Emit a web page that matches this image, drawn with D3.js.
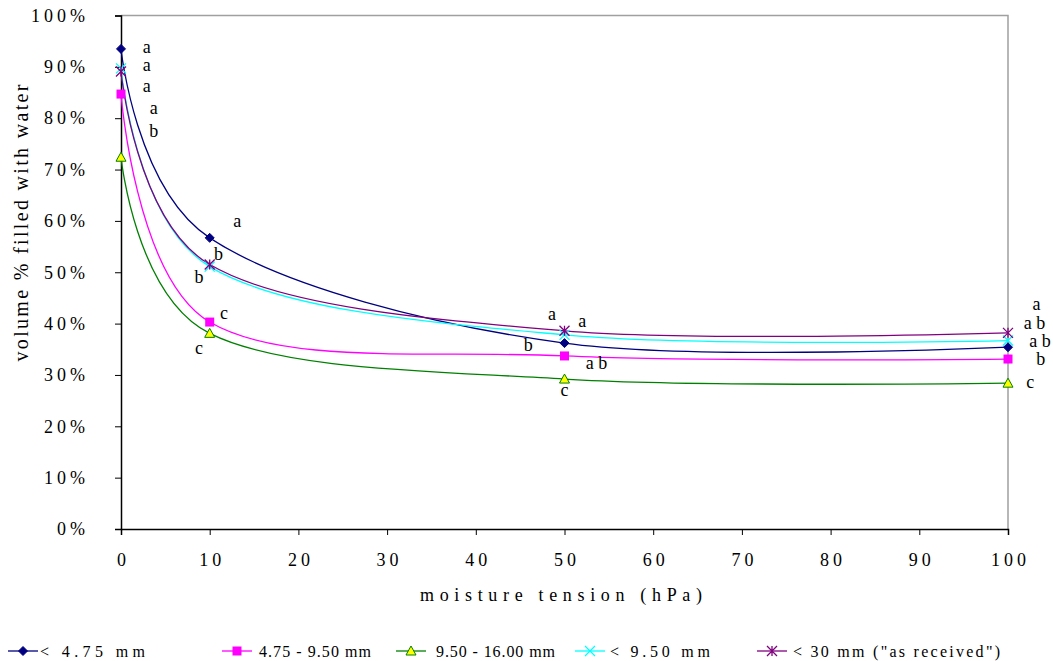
<!DOCTYPE html>
<html>
<head>
<title>Moisture tension</title>
<script src="https://cdnjs.cloudflare.com/ajax/libs/d3/7.8.5/d3.min.js"></script>
<style>
  body { margin: 0; background: #fff; }
</style>
</head>
<body>
<div id="chart"></div>
<script>
// data
const tensions = [0, 10, 50, 100];
const seriesNames = ["< 4.75 mm", "4.75 - 9.50 mm", "9.50 - 16.00 mm", "< 9.50 mm", "< 30 mm (\"as received\")"];
const fine = [93.5, 56.7, 36.2, 35.4];
const medium = [84.7, 40.3, 33.7, 33.1];
const coarse = [72.4, 38.1, 29.2, 28.4];
const under950 = [89.7, 51.1, 37.8, 36.7];
const asReceived = [89.1, 51.5, 38.6, 38.2];
const yTicks = [0, 10, 20, 30, 40, 50, 60, 70, 80, 90, 100];
const xTicks = [0, 10, 20, 30, 40, 50, 60, 70, 80, 90, 100];

// significance letters [x, y, text]
const letters = [
  [2.9, 93.9, "a"], [2.9, 90.4, "a"], [2.9, 86.4, "a"], [3.7, 82.1, "a"], [3.7, 77.6, "b"],
  [13.1, 60.1, "a"], [11.0, 53.6, "b"], [8.8, 49.1, "b"], [11.6, 42.1, "c"], [8.8, 35.3, "c"],
  [48.6, 42.0, "a"], [52.0, 40.5, "a"], [45.9, 35.8, "b"], [53.6, 32.3, "a b"], [50.0, 27.2, "c"],
  [103.2, 43.8, "a"], [103.0, 40.1, "a b"], [103.6, 36.7, "a b"], [103.7, 33.1, "b"], [102.5, 28.6, "c"]
];

const series = [
  { name: seriesNames[0], values: fine, color: "#000080", marker: "diamond" },
  { name: seriesNames[1], values: medium, color: "#ff00ff", marker: "square" },
  { name: seriesNames[2], values: coarse, color: "#008000", marker: "triangle" },
  { name: seriesNames[3], values: under950, color: "#00ffff", marker: "cross" },
  { name: seriesNames[4], values: asReceived, color: "#800080", marker: "star" }
];

const FONT = "Liberation Serif";
const width = 1053, height = 661;
const svg = d3.select("#chart").append("svg")
  .attr("width", width).attr("height", height)
  .attr("font-family", FONT);

const x = d3.scaleLinear().domain([0, 100]).range([121, 1008]);
const y = d3.scaleLinear().domain([0, 100]).range([529, 15.5]);

// frame (top and right in grey)
svg.append("path")
  .attr("d", `M${x(0)},${y(100)}H${x(100)}V${y(0)}`)
  .attr("fill", "none").attr("stroke", "#a0a0a0").attr("stroke-width", 1.5);

const xAxis = svg.append("g")
  .attr("transform", `translate(0,${y(0)})`)
  .call(d3.axisBottom(x).tickValues(xTicks).tickSize(6).tickPadding(18).tickFormat(d3.format("d")));
xAxis.selectAll("text").attr("dx", "2px");

const yAxis = svg.append("g")
  .attr("transform", `translate(${x(0)},0)`)
  .call(d3.axisLeft(y).tickValues(yTicks).tickSize(6).tickPadding(30).tickFormat(d => d + "%"));
yAxis.selectAll("text").attr("dx", "4px");

xAxis.attr("font-family", FONT);
yAxis.attr("font-family", FONT);
svg.selectAll(".tick text")
  .attr("font-family", FONT)
  .attr("font-size", 18)
  .attr("letter-spacing", "4px");
svg.selectAll(".domain").attr("stroke", "#000").attr("stroke-width", 1.5);
svg.selectAll(".tick line").attr("stroke", "#000");

// axis titles
svg.append("text")
  .attr("x", 561).attr("y", 601)
  .attr("text-anchor", "middle")
  .attr("font-family", FONT)
  .attr("font-size", 18)
  .attr("textLength", 282)
  .text("moisture tension (hPa)");

svg.append("text")
  .attr("transform", `translate(28,223) rotate(-90)`)
  .attr("text-anchor", "middle")
  .attr("font-family", FONT)
  .attr("font-size", 20)
  .attr("textLength", 277)
  .text("volume % filled with water");

const line = d3.line()
  .x((d, i) => x(tensions[i]))
  .y(d => y(d))
  .curve(d3.curveCardinal.tension(0));

function drawMarker(g, type, color, cx, cy) {
  if (type === "diamond") {
    g.append("path").attr("d", `M${cx},${cy - 4.5}L${cx + 4.5},${cy}L${cx},${cy + 4.5}L${cx - 4.5},${cy}Z`)
      .attr("fill", color).attr("stroke", color);
  } else if (type === "square") {
    g.append("rect").attr("x", cx - 4.5).attr("y", cy - 4.5).attr("width", 9).attr("height", 9)
      .attr("fill", color);
  } else if (type === "triangle") {
    g.append("path").attr("d", `M${cx},${cy - 5}L${cx + 5},${cy + 4}L${cx - 5},${cy + 4}Z`)
      .attr("fill", "#ffff00").attr("stroke", color).attr("stroke-width", 1);
  } else if (type === "cross") {
    g.append("path").attr("d", `M${cx - 5},${cy - 5}L${cx + 5},${cy + 5}M${cx - 5},${cy + 5}L${cx + 5},${cy - 5}`)
      .attr("stroke", color).attr("stroke-width", 1.3);
  } else {
    g.append("path").attr("d", `M${cx - 5},${cy - 5}L${cx + 5},${cy + 5}M${cx - 5},${cy + 5}L${cx + 5},${cy - 5}M${cx},${cy - 5}V${cy + 5}`)
      .attr("stroke", color).attr("stroke-width", 1.3);
  }
}

series.forEach(s => {
  svg.append("path")
    .datum(s.values)
    .attr("d", line)
    .attr("fill", "none")
    .attr("stroke", s.color)
    .attr("stroke-width", 1.3);
});
series.forEach(s => {
  const g = svg.append("g");
  s.values.forEach((v, i) => drawMarker(g, s.marker, s.color, x(tensions[i]), y(v)));
});

// letters
svg.selectAll(".lbl")
  .data(letters)
  .join("text")
  .attr("class", "lbl")
  .attr("font-family", FONT)
  .attr("font-size", 18)
  .attr("x", d => x(d[0]))
  .attr("y", d => y(d[1]))
  .attr("dy", "0.35em")
  .attr("text-anchor", "middle")
  .text(d => d[2]);

// legend: line start, text start, text width
const legendLayout = [[8, 40, 105], [222, 259, 112], [396, 436, 119], [575, 610, 100], [757, 793, 207]];
const legendY = 651;
series.forEach((s, i) => {
  const [lx, tx, tw] = legendLayout[i];
  const g = svg.append("g");
  g.append("line").attr("x1", lx).attr("x2", lx + 30).attr("y1", legendY).attr("y2", legendY)
    .attr("stroke", s.color).attr("stroke-width", 1.3);
  drawMarker(g, s.marker, s.color, lx + 15, legendY);
  g.append("text")
    .attr("x", tx).attr("y", legendY).attr("dy", "0.35em")
    .attr("font-family", FONT)
    .attr("font-size", 16)
    .attr("textLength", tw)
    .text(s.name);
});
</script>
</body>
</html>
